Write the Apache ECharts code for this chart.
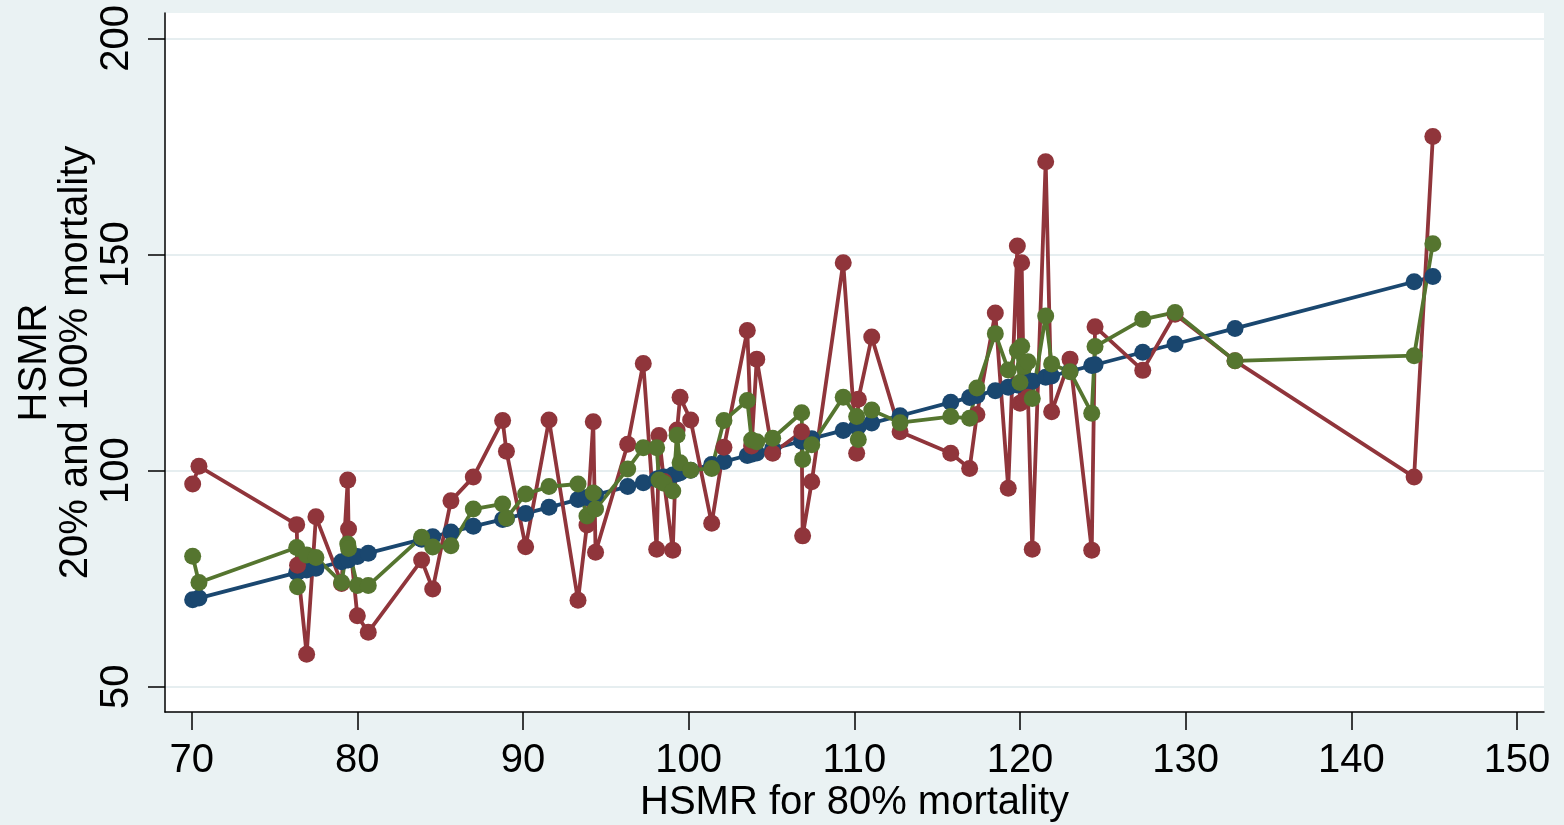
<!DOCTYPE html>
<html>
<head>
<meta charset="utf-8">
<script src="https://cdn.jsdelivr.net/npm/echarts@6/dist/echarts.min.js"></script>
<style>html,body{margin:0;padding:0;background:#EAF2F3;}#c{width:1564px;height:825px;}</style>
</head>
<body>
<div id="c"></div>
<script>
// HSMR for 80% mortality (x)
var hsmr80 = [70.06,70.44,76.34,76.39,76.94,77.50,79.05,79.42,79.47,80.00,80.66,83.88,84.55,85.65,87.00,88.77,89.00,90.16,91.57,93.32,93.86,94.24,94.38,96.32,97.26,98.07,98.21,98.51,99.04,99.30,99.48,100.12,101.39,102.13,103.54,103.80,104.11,105.07,106.82,106.88,107.43,109.33,110.14,110.24,111.05,112.76,115.82,116.96,117.40,118.51,119.29,119.84,120.00,120.10,120.24,120.48,120.74,121.55,121.91,123.02,124.33,124.53,127.41,129.36,132.98,143.79,144.92];
// blue series (read values)
var blueVals = [70.1,70.5,76.4,76.5,77.0,77.4,78.9,79.3,79.4,80.1,80.9,84.1,84.7,85.8,87.1,88.7,88.9,90.1,91.5,93.3,93.8,94.2,94.4,96.3,97.2,98.0,98.2,98.5,99.0,99.3,99.5,100.1,101.4,102.1,103.5,103.8,104.1,105.1,106.8,106.9,107.4,109.3,110.1,110.2,111.0,112.7,115.8,116.9,117.4,118.5,119.3,119.8,120.0,120.1,120.2,120.5,120.7,121.6,121.9,123.0,124.3,124.5,127.4,129.3,132.9,143.7,144.9];
// red series (read values)
var redVals = [96.9,101.0,87.5,78.1,57.5,89.3,73.9,97.8,86.5,66.4,62.6,79.3,72.6,93.0,98.5,111.6,104.5,82.4,111.7,70.0,87.4,111.3,81.1,106.1,124.8,81.8,108.1,97.5,81.6,109.4,117.0,111.7,87.8,105.4,132.4,105.7,125.8,104.0,109.0,84.9,97.4,148.1,104.0,116.5,130.9,109.0,104.0,100.5,113.0,136.5,95.9,152.0,115.6,148.1,116.2,117.0,81.8,171.5,113.6,125.8,81.6,133.3,123.2,136.2,125.4,98.5,177.3];
// green series (read values)
var greenVals = [80.2,74.1,82.2,73.1,80.5,79.9,74.1,83.0,82.0,73.4,73.4,84.6,82.3,82.6,91.1,92.3,89.0,94.6,96.3,96.9,89.5,94.8,91.1,100.4,105.3,105.3,97.8,97.1,95.3,108.2,101.8,100.1,100.5,111.6,116.2,107.1,106.7,107.5,113.4,102.6,106.0,117.0,112.5,107.2,114.0,111.1,112.5,112.1,119.1,131.7,123.3,127.8,120.4,128.8,124.1,125.2,116.7,135.8,124.7,122.9,113.3,128.7,135.0,136.6,125.4,126.6,152.5];
var xTicks = [70,80,90,100,110,120,130,140,150];
var yTicks = [50,100,150,200];

function pairs(vals){ return hsmr80.map(function(x,i){ return [x, vals[i]]; }); }

var font = 'Liberation Sans, Arial, Helvetica, sans-serif';
function mk(name, vals, color){
  return {
    name: name, type: 'line', data: pairs(vals),
    symbol: 'circle', symbolSize: 17, showAllSymbol: true,
    lineStyle: {color: color, width: 3.8},
    itemStyle: {color: color},
    emphasis: {disabled: true},
    animation: false
  };
}

var chart = echarts.init(document.getElementById('c'), null, {renderer: 'canvas'});
chart.setOption({
  backgroundColor: '#EAF2F3',
  animation: false,
  grid: {left: 165, top: 13, right: 20, bottom: 113, show: true, backgroundColor: '#FFFFFF', borderWidth: 0, containLabel: false, outerBoundsMode: 'none'},
  xAxis: {
    type: 'value', min: 68.39, max: 151.63,
    axisLine: {show: true, onZero: false, lineStyle: {color: '#000', width: 1.5}},
    axisTick: {show: true, length: 18, customValues: xTicks, lineStyle: {color: '#000', width: 1.5}},
    axisLabel: {customValues: xTicks, fontSize: 40, fontFamily: font, color: '#000', margin: 29},
    splitLine: {show: false},
    name: 'HSMR for 80% mortality', nameLocation: 'middle', nameGap: 71, nameMoveOverlap: false,
    nameTextStyle: {fontSize: 40, fontFamily: font, color: '#000'}
  },
  yAxis: {
    type: 'value', min: 44.14, max: 205.9,
    axisLine: {show: true, onZero: false, lineStyle: {color: '#000', width: 1.5}},
    axisTick: {show: true, length: 17, customValues: yTicks, lineStyle: {color: '#000', width: 1.5}},
    axisLabel: {customValues: yTicks, rotate: 90, fontSize: 40, fontFamily: font, color: '#000', margin: 28},
    splitLine: {show: true, lineStyle: {color: '#E6EEF0', width: 2}},
    name: 'HSMR\n20% and 100% mortality', nameLocation: 'middle', nameGap: 69, nameRotate: 90, nameMoveOverlap: false,
    nameTextStyle: {fontSize: 40, lineHeight: 41, fontFamily: font, color: '#000', align: 'center'}
  },
  series: [
    mk('80%', blueVals, '#1A476F'),
    mk('20%', redVals, '#90353B'),
    mk('100%', greenVals, '#55752F')
  ]
});
</script>
</body>
</html>
